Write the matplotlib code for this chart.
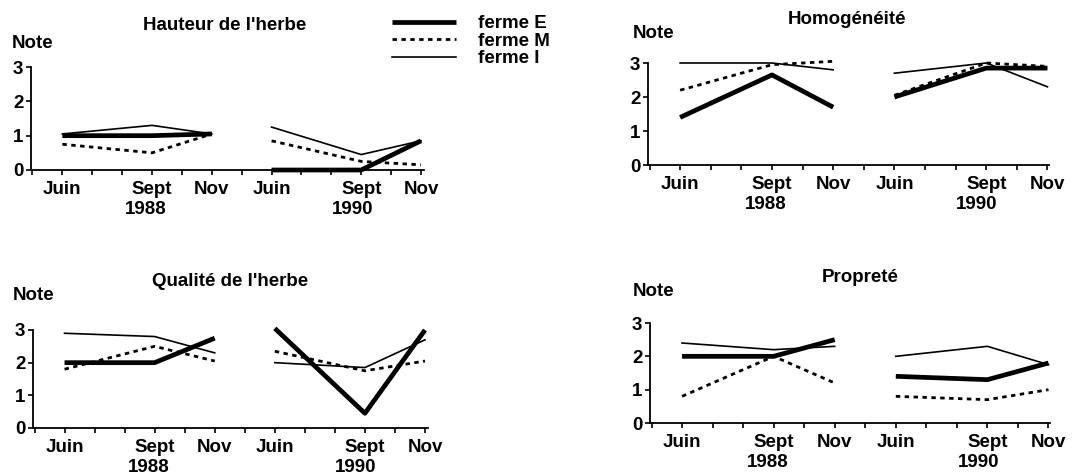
import numpy as np
import matplotlib
matplotlib.use("Agg")
import matplotlib.pyplot as plt
from matplotlib.ticker import FixedLocator, NullFormatter

plt.rcParams["font.family"] = ["Liberation Sans", "DejaVu Sans"]
plt.rcParams["font.weight"] = "bold"
FS = 13.5

# month positions on the compressed time axis (Juin 88 = 0)
months = [0, 3, 5, 7, 10, 12]
month_labels = ["Juin", "Sept", "Nov", "Juin", "Sept", "Nov"]
years = ["1988", "1990"]
year_pos = [2.8, 9.7]
farms = ["ferme E", "ferme M", "ferme I"]

# notes per panel, 3 values for 1988 then 3 values for 1990
hauteur_E = [1.0, 1.0, 1.05, 0.0, 0.0, 0.85]
hauteur_M = [0.75, 0.5, 1.05, 0.85, 0.25, 0.15]
hauteur_I = [1.05, 1.3, 1.05, 1.25, 0.45, 0.85]

homog_E = [1.4, 2.65, 1.7, 2.0, 2.85, 2.85]
homog_M = [2.2, 2.95, 3.05, 2.05, 3.0, 2.9]
homog_I = [3.0, 3.0, 2.8, 2.7, 3.0, 2.3]

qualite_E = [2.0, 2.0, 2.75, 3.05, 0.45, 3.0]
qualite_M = [1.8, 2.5, 2.05, 2.35, 1.75, 2.05]
qualite_I = [2.9, 2.8, 2.3, 2.0, 1.85, 2.7]

proprete_E = [2.0, 2.0, 2.5, 1.4, 1.3, 1.8]
proprete_M = [0.8, 2.0, 1.2, 0.8, 0.7, 1.0]
proprete_I = [2.4, 2.2, 2.3, 2.0, 2.3, 1.75]

styles = {
    "ferme E": dict(color="black", lw=3.4, solid_capstyle="butt"),
    "ferme M": dict(color="black", lw=2.0, ls=(0, (1.6, 1.6))),
    "ferme I": dict(color="black", lw=1.2),
}

W, H = 1072, 475
fig = plt.figure(figsize=(W / 100, H / 100), dpi=100)
fig.patch.set_facecolor("white")


def px_axes(left, right, y0, height):
    return fig.add_axes([left / W, (H - y0) / H, (right - left) / W, height / H])


def draw_panel(ax, series, xmax):
    for name, vals in zip(farms, series):
        ax.plot(months[:3], vals[:3], label=name, clip_on=False, **styles[name])
        ax.plot(months[3:], vals[3:], clip_on=False, **styles[name])
    ax.set_xlim(-1.05, xmax)
    ax.set_ylim(0, 3)
    for s in ("top", "right"):
        ax.spines[s].set_visible(False)
    for s in ("left", "bottom"):
        ax.spines[s].set_linewidth(1.3)
    ax.set_facecolor("none")
    ax.set_yticks([0, 1, 2, 3])
    ax.set_xticks(months)
    ax.set_xticklabels(month_labels)
    ax.xaxis.set_minor_locator(FixedLocator(range(-1, 13)))
    ax.xaxis.set_minor_formatter(NullFormatter())
    ax.tick_params(axis="both", which="both", direction="out", length=3.5, width=1.2,
                   labelsize=FS)
    ax.tick_params(axis="x", pad=4.5)
    ax.tick_params(axis="y", pad=2)
    for yr, xp in zip(years, year_pos):
        ax.annotate(yr, xy=(xp, 0), xycoords=("data", "axes fraction"),
                    xytext=(0, -28.5), textcoords="offset points",
                    ha="center", va="center", fontsize=FS)


ax1 = px_axes(31, 424, 170, 103)
draw_panel(ax1, [hauteur_E, hauteur_M, hauteur_I], 12.1)
ax2 = px_axes(648, 1049, 165, 102)
draw_panel(ax2, [homog_E, homog_M, homog_I], 12.05)
ax3 = px_axes(33, 428, 428, 98)
draw_panel(ax3, [qualite_E, qualite_M, qualite_I], 12.1)
ax4 = px_axes(650, 1050, 423, 100)
draw_panel(ax4, [proprete_E, proprete_M, proprete_I], 12.05)

# panel titles and "Note" labels (pixel positions from the reference)
titles = [("Hauteur de l'herbe", 225, 25), ("Homogénéité", 847, 20),
          ("Qualité de l'herbe", 230, 282), ("Propreté", 860, 278)]
for t, x, y in titles:
    fig.text(x / W, 1 - y / H, t, ha="center", va="center", fontsize=FS)
notes = [(12, 43), (633, 33), (13, 295), (633, 292)]
for x, y in notes:
    fig.text(x / W, 1 - y / H, "Note", ha="left", va="center", fontsize=FS)

handles, labels = ax1.get_legend_handles_labels()
fig.legend(handles, labels, loc="upper left", bbox_to_anchor=(392 / W, 1 - 15 / H),
           frameon=False, handlelength=3.4, handletextpad=1.2, labelspacing=0.02,
           borderpad=0, borderaxespad=0, fontsize=FS)

fig.savefig("out.png", dpi=100)
